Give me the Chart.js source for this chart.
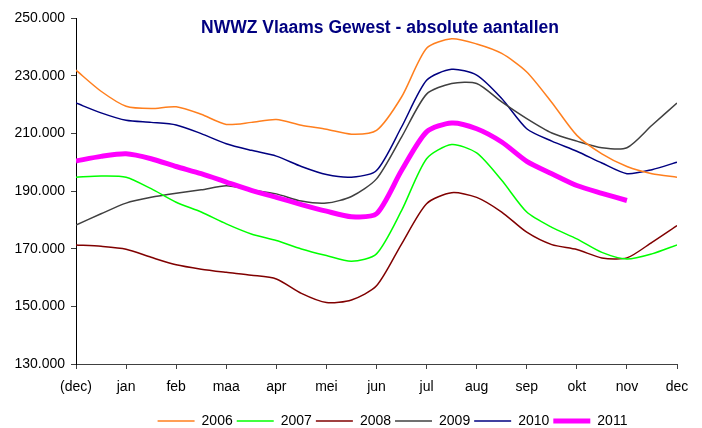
<!DOCTYPE html>
<html>
<head>
<meta charset="utf-8">
<script src="https://cdn.jsdelivr.net/npm/chart.js@4"></script>
<style>
  html, body { margin: 0; padding: 0; background: #fff; }
  #wrap { width: 702px; height: 428px; }
</style>
</head>
<body>
<div id="wrap"><canvas id="chart" width="702" height="428"></canvas></div>
<script>
// month labels on the x axis
const months = ['(dec)', 'jan', 'feb', 'maa', 'apr', 'mei', 'jun', 'jul', 'aug', 'sep', 'okt', 'nov', 'dec'];
const yTicks = [130000, 150000, 170000, 190000, 210000, 230000, 250000];

// half-month readings, starting at (dec)
const y2006 = [231900, 224600, 219400, 218600, 219200, 216600, 213100, 213800, 214800, 212800, 211400, 209700, 211000,
               222600, 239500, 242800, 241000, 237700, 231300, 220700, 209300, 202900, 198500, 196000, 194800];
const y2007 = [194800, 195200, 194800, 190800, 186100, 182700, 178600, 175100, 172800, 169900, 167600, 165600, 168200,
               183200, 201200, 206100, 203200, 193700, 182700, 177400, 173400, 168700, 166400, 168200, 171300];
const y2008 = [171300, 170800, 169800, 167000, 164400, 162900, 161800, 160800, 159500, 154500, 151300, 152200, 157100,
               171600, 185600, 189400, 187800, 182700, 175700, 171400, 169700, 166800, 166800, 172200, 178000];
const y2009 = [178200, 182100, 185800, 187800, 189200, 190400, 191800, 190400, 189000, 186500, 185800, 188100, 194200,
               208700, 223600, 227300, 227300, 220900, 215100, 210100, 207300, 205000, 205000, 212800, 220500];
const y2010 = [220500, 217100, 214500, 213800, 212900, 209900, 206400, 204100, 202100, 198500, 195700, 194800, 197100,
               212200, 228400, 232200, 230200, 222100, 211600, 207300, 203800, 199700, 196000, 197400, 200000];
const y2011 = [200400, 202000, 202900, 201200, 198500, 196000, 193100, 190200, 187800, 185300, 183000, 181100, 182100,
               197100, 210500, 213600, 211600, 207000, 200300, 196000, 191900, 189200, 186700];

const years = ['2006', '2007', '2008', '2009', '2010', '2011'];
const series = [y2006, y2007, y2008, y2009, y2010, y2011];
const colors = ['#ff7f1e', '#00ff00', '#800000', '#404040', '#000080', '#ff00ff'];
const widths = [1.5, 1.5, 1.5, 1.5, 1.5, 5];

// each reading sits half a month after the previous one
function toPoints(values) {
    return values.map((v, i) => ({ x: i / 2, y: v }));
}

const FONT = 'Liberation Sans, Arial, sans-serif';

const titlePlugin = {
    id: 'insideTitle',
    afterLayout(chart) {
        // legend in the original sits a bit right of centre
        chart.legend.left += 54;
        chart.legend.right += 54;
    },
    afterDraw(chart) {
        const ctx = chart.ctx;
        ctx.save();
        ctx.font = 'bold 17.5px ' + FONT;
        ctx.fillStyle = '#000080';
        ctx.textAlign = 'center';
        ctx.textBaseline = 'middle';
        ctx.fillText('NWWZ Vlaams Gewest - absolute aantallen', 380, 28);
        ctx.restore();
    }
};

new Chart(document.getElementById('chart').getContext('2d'), {
    type: 'line',
    data: {
        datasets: years.map((year, i) => ({
            label: year,
            data: toPoints(series[i]),
            borderColor: colors[i],
            backgroundColor: colors[i],
            borderWidth: widths[i],
            pointRadius: 0,
            pointStyle: 'line',
            tension: 0.25,
            fill: false,
            order: i === 5 ? 0 : 1
        }))
    },
    options: {
        responsive: false,
        animation: false,
        layout: { padding: { top: 18, right: 25, left: 0, bottom: -10 } },
        plugins: {
            tooltip: { enabled: false },
            title: { display: false },
            legend: {
                position: 'bottom',
                labels: {
                    usePointStyle: true,
                    pointStyleWidth: 37,
                    padding: 4,
                    color: '#000',
                    font: { family: FONT, size: 14 },
                    sort: (a, b) => a.datasetIndex - b.datasetIndex
                }
            }
        },
        scales: {
            x: {
                type: 'linear',
                min: 0,
                max: 12,
                ticks: {
                    stepSize: 1,
                    autoSkip: false,
                    maxRotation: 0,
                    color: '#000',
                    font: { family: FONT, size: 14 },
                    padding: 10,
                    callback: (v) => months[v]
                },
                grid: { drawOnChartArea: false, drawTicks: true, tickLength: 5, color: '#404040' },
                border: { color: '#404040', width: 1 },
                afterFit: (scale) => { scale.height = 46; }
            },
            y: {
                min: 130000,
                max: 250000,
                afterBuildTicks: (scale) => { scale.ticks = yTicks.map(v => ({ value: v })); },
                ticks: {
                    color: '#000',
                    font: { family: FONT, size: 14 },
                    padding: 6,
                    callback: (v) => v.toLocaleString('de-DE')
                },
                grid: { drawOnChartArea: false, drawTicks: true, tickLength: 5, color: '#404040' },
                border: { color: '#000', width: 1 },
                afterFit: (scale) => { scale.width = 76; }
            }
        }
    },
    plugins: [titlePlugin]
});
</script>
</body>
</html>
